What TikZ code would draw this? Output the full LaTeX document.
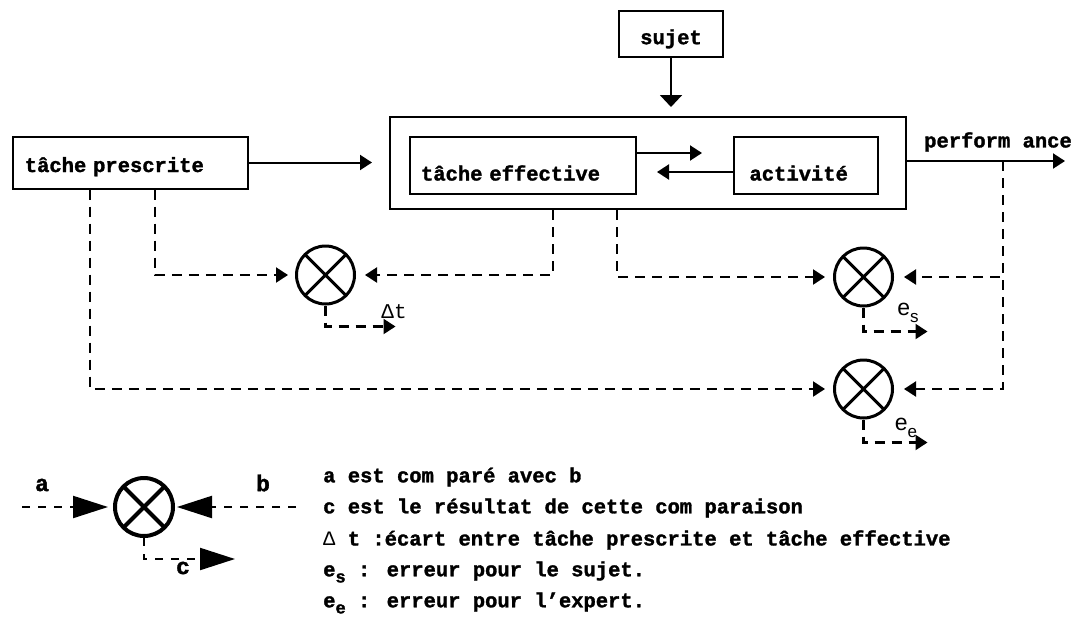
\documentclass[tikz,border=0pt]{standalone}
\usepackage{fontspec}
\newfontfamily\courier[BoldFeatures={FakeBold=1.5}]{Liberation Mono}
\newfontfamily\helv{Liberation Sans}
\newcommand{\montexte}{\courier\bfseries\fontsize{20.5}{24}\selectfont}
\newcommand{\lettre}{\courier\bfseries\fontsize{23}{26}\selectfont}
\newcommand{\indice}[1]{\raisebox{-0.3em}{\fontsize{17}{17}\selectfont #1}}
\usetikzlibrary{arrows.meta}
\tikzset{
  boite/.style={draw, line width=2pt, inner ysep=0pt, font=\montexte},
  comp/.style={circle, draw, line width=#1, minimum size=58pt, inner sep=0pt,
    path picture={\draw[line width=#1]
      (path picture bounding box.north east) -- (path picture bounding box.south west)
      (path picture bounding box.north west) -- (path picture bounding box.south east);}},
  comp/.default=3pt,
  pointe/.style={-{Triangle[length=12pt,width=15pt]}},
  fleche/.style={line width=2pt, pointe},
  tirets/.style={line width=2.2pt, dash pattern=on 10pt off 7pt, pointe},
  tiretsleg/.style={line width=2.2pt, dash pattern=on 8pt off 8pt, -{Triangle[length=35pt,width=22pt]}},
  legende/.style={anchor=west, inner sep=0pt, font=\montexte}
}
\begin{document}
\begin{tikzpicture}[x=1pt,y=-1pt]
		\useasboundingbox (0,0) rectangle (1081,621);
		%
		\node[boite, minimum width=235pt, minimum height=52pt, text width=211pt, inner xsep=12pt,
		  align=left, text height=23pt, text depth=4pt] (tp) at (130.3,162.5) {tâche prescrite};
		\node[boite, minimum width=104pt, minimum height=46pt, text height=25pt, text depth=4pt]
		  (sujet) at (671,33.7) {sujet};
		\node[boite, minimum width=516pt, minimum height=92pt] (cadre) at (648,163) {};
		\node[boite, minimum width=226pt, minimum height=57pt, text width=204pt, inner xsep=11pt,
		  align=left, text height=35pt, text depth=4pt] (te) at (523,165) {tâche effective};
		\node[boite, minimum width=144pt, minimum height=57pt, text width=113pt, inner xsep=15.5pt,
		  align=left, text height=35pt, text depth=4pt] (act) at (806,165) {activité};
		%
		\node[comp] (cmpt) at (325.5,275) {};
		\node[comp] (cmps) at (863.5,277) {};
		\node[comp] (cmpe) at (863.5,389) {};
		%
		\node[font=\montexte] (lperf) at (998,142) {perform ance};
		\node[font=\courier\fontsize{21}{24}\selectfont] (ldt) at (394,312) {Δt};
		\node[font=\helv\fontsize{23}{24}\selectfont] (les) at (908,313) {e\indice{s}};
		\node[font=\helv\fontsize{23}{24}\selectfont] (lee) at (906,428) {e\indice{e}};
		%
		\coordinate (perf) at (1065,161);
		\draw[fleche, shorten >=17pt] (tp.east) -- (tp.east -| cadre.west);
		\draw[line width=2pt, -{Triangle[length=12pt,width=22pt]}, shorten >=9pt]
		  (sujet.south) -- (sujet.south |- cadre.north);
		\draw[fleche, shorten >=31pt] ([yshift=12pt]te.east) -- ([yshift=12pt]act.west);
		\draw[fleche, shorten >=20pt] ([yshift=-7pt]act.west) -- ([yshift=-7pt]te.east);
		\draw[fleche] (cadre.east |- perf) -- (perf);
		%
		\draw[tirets, shorten >=7pt] ([xshift=25pt]tp.south) |- (cmpt.west);
		\draw[tirets, shorten >=9pt] ([xshift=-95pt]cadre.south) |- (cmpt.east);
		\draw[tirets, shorten >=8pt] ([xshift=-31pt]cadre.south) |- (cmps.west);
		\draw[tirets, shorten >=10pt] ([xshift=-62pt]perf) |- (cmps.east);
		\draw[tirets, shorten >=10pt] ([xshift=-62pt]perf) |- (cmpe.east);
		\draw[tirets, shorten >=8pt] ([xshift=-40pt]tp.south) |- (cmpe.west);
		\draw[tirets] (cmpt.south) -- ++(0,21) -- ++(70,0);
		\draw[tirets] (cmps.south) -- ++(0,24) -- ++(64,0);
		\draw[tirets] (cmpe.south) -- ++(0,23) -- ++(64,0);
		%
		% legende
		\node[comp=4pt] (lcmp) at (144,507) {};
		\coordinate (la) at (22,507);
		\coordinate (lb) at (296,507);
		\draw[tiretsleg, shorten >=5pt] (la) -- (lcmp.west);
		\draw[tiretsleg, shorten >=2pt] (lb) -- (lcmp.east);
		\draw[tiretsleg] (lcmp.south) -- ++(0,21) -- ++(91,0);
		\node[font=\lettre] (na) at (42,485) {a};
		\node[font=\lettre] (nb) at (263,483) {b};
		\node[font=\lettre] (nc) at (183,568) {c};
		%
		\node[legende] (l1) at (323,477) {a est com paré avec b};
		\node[legende] (l2) at (323,508) {c est le résultat de cette com paraison};
		\node[legende] (l3) at (323,540) {{\mdseries Δ} t :écart entre tâche prescrite et tâche effective};
		\node[legende] (l4) at (323,572) {e\indice{s} : erreur pour le sujet.};
		\node[legende] (l5) at (323,603) {e\indice{e} : erreur pour l’expert.};
\end{tikzpicture}
\end{document}
